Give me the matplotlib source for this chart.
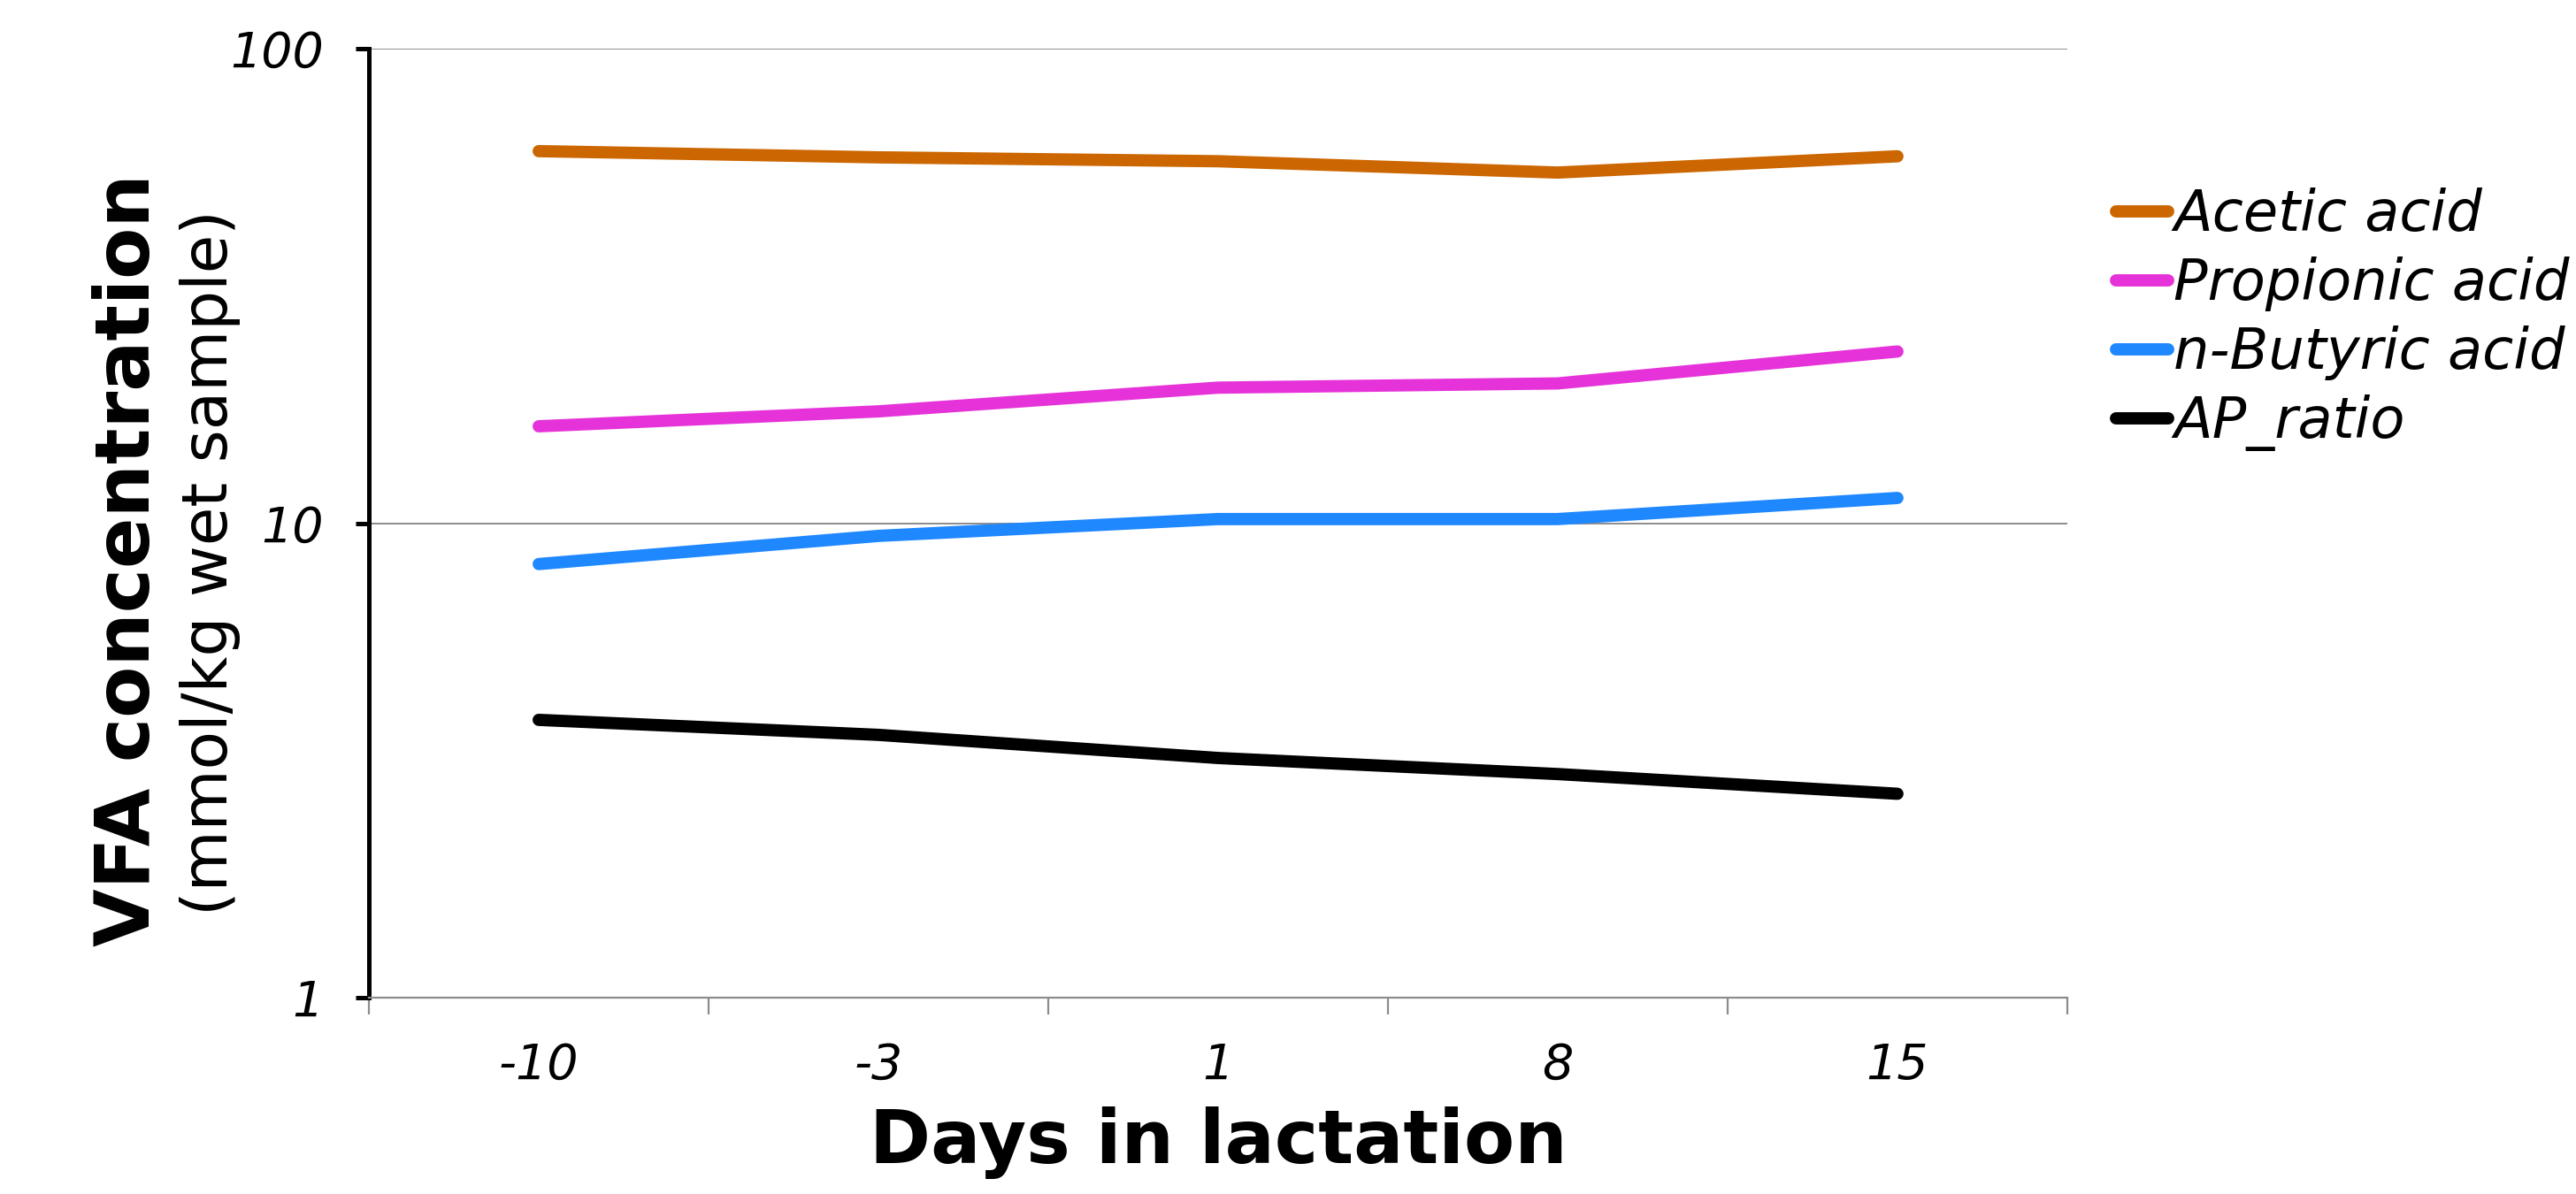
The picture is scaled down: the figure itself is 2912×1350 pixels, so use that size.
import matplotlib
matplotlib.use('Agg')
import matplotlib.pyplot as plt
import numpy as np

# %% Data
days = ['-10', '-3', '1', '8', '15']
acetic = [60.8, 59.0, 57.9, 54.8, 59.3]
propionic = [16.0, 17.2, 19.3, 19.7, 23.0]
butyric = [8.2, 9.4, 10.2, 10.2, 11.3]
ap_ratio = [3.85, 3.58, 3.20, 2.96, 2.69]

series_names = ['Acetic acid', 'Propionic acid', 'n-Butyric acid', 'AP_ratio']
series_colors = ['#CC6600', '#E633D9', '#1F88FF', '#000000']

plt.rcParams['font.family'] = 'DejaVu Sans'

# %% Figure and axes (2912 x 1350 px)
fig = plt.figure(figsize=(14.56, 6.75), dpi=200)
ax = fig.add_axes([0.1432, 0.1644, 0.8025 - 0.1432, 0.9593 - 0.1644])

x = np.arange(len(days))
for vals, name, col in zip([acetic, propionic, butyric, ap_ratio],
                           series_names, series_colors):
    ax.plot(x, vals, color=col, lw=5, solid_capstyle='round',
            solid_joinstyle='round', label=name)

# Log y axis 1..100
ax.set_yscale('log')
ax.set_ylim(1, 100)
ax.set_yticks([1, 10, 100])
ax.set_yticklabels(['1', '10', '100'], fontsize=20, style='italic')
ax.yaxis.set_minor_locator(matplotlib.ticker.NullLocator())
ax.grid(axis='y', which='major', color='#8c8c8c', lw=0.7)
ax.set_axisbelow(True)

# Category x axis, ticks between categories
ax.set_xlim(-0.5, len(days) - 0.5)
ax.set_xticks(np.arange(-0.5, len(days), 1.0))
ax.set_xticklabels([])
ax.set_xticks(x, minor=True)
ax.set_xticklabels(days, minor=True, fontsize=20, style='italic')
ax.tick_params(axis='x', which='major', length=7, width=0.8,
               color='#8c8c8c', direction='out')
ax.tick_params(axis='x', which='minor', length=0, pad=18)
ax.tick_params(axis='y', which='major', length=5.5, width=1.8,
               color='black', direction='out', pad=13)

for side in ['top', 'right']:
    ax.spines[side].set_visible(False)
ax.spines['left'].set_linewidth(1.8)
ax.spines['bottom'].set_color('#8c8c8c')
ax.spines['bottom'].set_linewidth(0.8)

# Axis titles
ax.set_xlabel('Days in lactation', fontsize=30, fontweight='bold', labelpad=7)
fig.text(0.0498, 0.531, 'VFA concentration', rotation=90, fontsize=30.5,
         fontweight='bold', ha='center', va='center')
fig.text(0.0817, 0.529, '(mmol/kg wet sample)', rotation=90, fontsize=25.5,
         ha='center', va='center')

# Legend
leg = fig.legend(loc='upper left', bbox_to_anchor=(2392 / 2912, 1 - 212 / 1350),
                 frameon=False, prop={'size': 23, 'style': 'italic'},
                 handlelength=0.92, handletextpad=0.1, labelspacing=0.25,
                 borderpad=0, borderaxespad=0)

fig.savefig('out.png', dpi=200)
